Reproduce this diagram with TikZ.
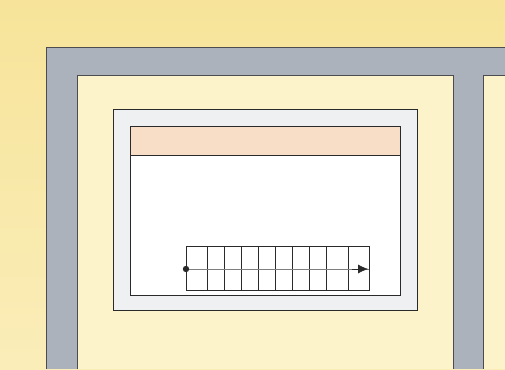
\documentclass[tikz,border=0pt]{standalone}
\usetikzlibrary{arrows.meta}
\definecolor{WallYellow}{HTML}{F7E49A}
\definecolor{WallPale}{HTML}{FAEDB8}
\definecolor{PaneYellow}{HTML}{FCF3CB}
\definecolor{FrameGray}{HTML}{ABB2BC}
\definecolor{FrameInk}{HTML}{4A4C50}
\definecolor{CaseWhite}{HTML}{EFF0F2}
\definecolor{TitleApricot}{HTML}{F8DEC6}
\definecolor{LineInk}{HTML}{2A2A2A}

\begin{document}
\begin{tikzpicture}[x=0.5mm,y=-0.5mm]
    \useasboundingbox (0,0) rectangle (505,369);

    % wall
    \shade[top color=WallYellow,bottom color=WallPale] (0,0) rectangle (505,369);

    % grey frame and the two panes
    \fill[FrameGray] (46,47) rectangle (505,369);
    \draw[FrameInk,line width=1pt] (46,369) -- (46,47) -- (505,47);
    \fill[PaneYellow] (77,75) rectangle (453,369);
    \draw[FrameInk,line width=1pt] (77,369) -- (77,75) -- (453,75) -- (453,369);
    \fill[PaneYellow] (483,75) rectangle (505,369);
    \draw[FrameInk,line width=1pt] (505,75) -- (483,75) -- (483,369);

    % window
    \draw[draw=LineInk,fill=CaseWhite,line width=1pt] (113,109) rectangle (417,310);
    \draw[draw=LineInk,fill=white,line width=1pt] (130,126) rectangle (400,295);
    \draw[draw=LineInk,fill=TitleApricot,line width=1pt] (130,126) rectangle (400,155);

    % strip of cells
    \draw[draw=LineInk,line width=1pt] (186,246) rectangle (369,290);
    \foreach \cx in {207,224,241,258,275,292,309,326,348}
      \draw[draw=LineInk,line width=1pt] (\cx,246) -- (\cx,290);

    \coordinate (start) at (186,269);
    \coordinate (stop) at (369,269);
    \draw[draw=LineInk!60,line width=0.6pt] (start) -- (stop);
    \fill[LineInk] (start) circle (3.2);
    \draw[LineInk,line width=0.6pt,-{Latex[length=5mm,width=4.5mm]}] (352,269) -- (368,269);
  \end{tikzpicture}
\end{document}
